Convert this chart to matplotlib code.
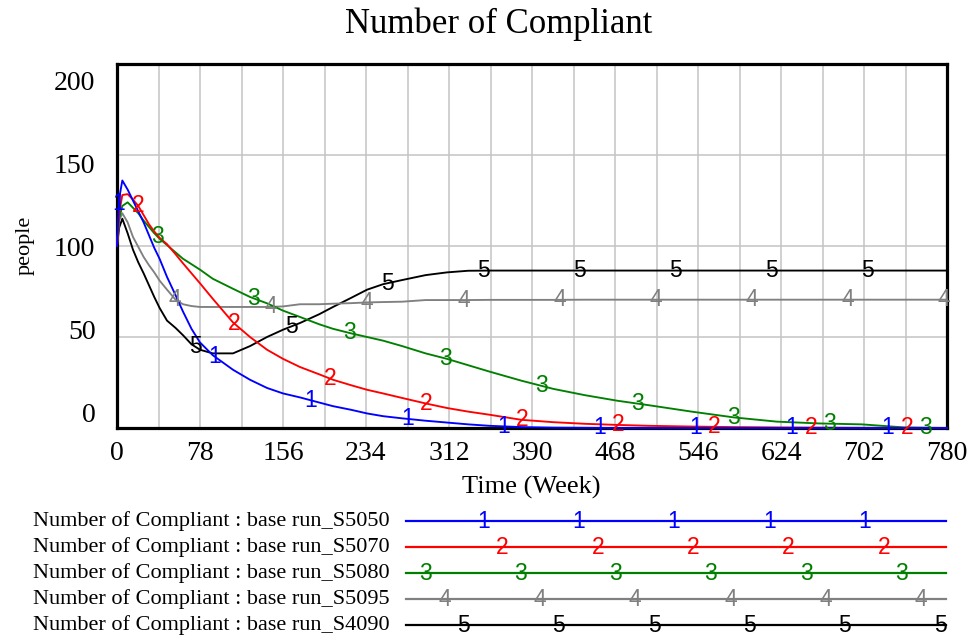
import numpy as np
import matplotlib
matplotlib.use("Agg")
import matplotlib.pyplot as plt
import matplotlib.transforms as mtransforms

# ---------------- data ----------------
title = "Number of Compliant"
x_label = "Time (Week)"
y_label = "people"
x_ticks = [0, 78, 156, 234, 312, 390, 468, 546, 624, 702, 780]
y_ticks = [0, 50, 100, 150, 200]

weeks = [0, 2, 5, 10, 15, 20, 25, 30, 35, 40, 47, 55, 62, 70, 78, 90, 109, 125,
         141, 156, 172, 190, 203, 220, 235, 250, 268, 290, 310, 330, 350, 380,
         410, 440, 470, 500, 540, 580, 620, 660, 700, 740, 780]

s5050 = [100, 126, 136, 131, 125, 119, 113, 106, 99, 93, 83, 73, 64, 54.5, 47, 40,
         32, 26.5, 22, 19, 16.8, 14, 12, 10, 8, 6.5, 5.3, 4, 3, 2, 1.2, 0.5,
         0.2, 0.1, 0, 0, 0, 0, 0, 0, 0, 0, 0]
s5070 = [100, 118, 128, 128.5, 125.5, 122, 117, 112, 108, 104.5, 101, 95.5, 90.5,
         85, 79.5, 71, 58, 50, 43, 38, 33.5, 29.5, 26.5, 23.5, 21, 19, 16.5, 13.5,
         11, 9, 7.3, 4.5, 3.2, 2.3, 1.7, 1.2, 0.8, 0.5, 0.3, 0.2, 0.1, 0.1, 0]
s5080 = [100, 115, 122, 124, 121, 118, 114, 110.5, 107, 104, 100.5, 96.5, 93, 90,
         87, 82, 76.5, 72, 68.5, 64.5, 61, 57, 54.5, 52, 50, 48, 45, 41, 38, 34.5,
         31, 26, 21.5, 18, 15, 12.5, 9, 5.8, 3.5, 2.5, 2.0, 0.3, 0]
s5095 = [100, 114, 118, 113, 105, 99.5, 94, 89.5, 85.5, 81, 76, 70.5, 68, 67,
         66.5, 66.5, 66.5, 66.5, 66.5, 66.8, 68, 68, 68.3, 68.6, 69, 69.2, 69.4,
         70.3, 70.3, 70.3, 70.4, 70.4, 70.4, 70.5, 70.5, 70.5, 70.5, 70.5, 70.5,
         70.5, 70.5, 70.5, 70.5]
s4090 = [100, 110, 115, 107, 98, 91, 85, 78.5, 72, 66, 59, 55, 51, 46, 43, 41, 41,
         45, 50, 54, 57.7, 62.5, 66.5, 71.5, 76, 79, 81.3, 84, 85.5, 86.4, 86.5,
         86.5, 86.5, 86.5, 86.5, 86.5, 86.5, 86.5, 86.5, 86.5, 86.5, 86.5, 86.5]

series_names = ["Number of Compliant : base run_S5050",
                "Number of Compliant : base run_S5070",
                "Number of Compliant : base run_S5080",
                "Number of Compliant : base run_S5095",
                "Number of Compliant : base run_S4090"]
series_values = [s5050, s5070, s5080, s5095, s4090]
series_marks = ["1", "2", "3", "4", "5"]

# ---------------- style ----------------
colors = ["#0000ff", "#ff0000", "#008000", "#808080", "#000000"]
serif = ["Liberation Serif", "DejaVu Serif"]
sans = ["Liberation Sans", "DejaVu Sans"]
mark_start = [1.8, 19.8, 37.6, 54.6, 73.4]
mark_step = 90.3
mark_size = 16.5

W, H = 977, 641
fig = plt.figure(figsize=(W / 100, H / 100), dpi=100)
fig.patch.set_facecolor("white")

L, R, T, B = 117, 947, 64, 428
ax = fig.add_axes([L / W, 1 - B / H, (R - L) / W, (B - T) / H])
ax.set_xlim(0, 780)
ax.set_ylim(0, 200)
ax.set_xticks(x_ticks)
ax.set_xticks(np.arange(0, 781, 39), minor=True)
ax.set_yticks(y_ticks)
ax.grid(True, which="both", color="#c4c4c4", lw=1.1, zorder=0)
ax.set_axisbelow(True)
ax.tick_params(which="both", length=0)
ax.tick_params(axis="x", pad=9.5)
ax.tick_params(axis="y", pad=15.5)
for lab in ax.get_xticklabels() + ax.get_yticklabels():
    lab.set_fontfamily(serif)
    lab.set_fontsize(20)
for sp in ax.spines.values():
    sp.set_linewidth(2.3)
    sp.set_color("black")

# spread y tick labels like the original
for v, lab in zip(y_ticks, ax.get_yticklabels()):
    off_px = 17 - (200 - v) * 0.165
    lab.set_transform(lab.get_transform() +
                      mtransforms.ScaledTranslation(0, -off_px / 100, fig.dpi_scale_trans))

# curves (series 1 on top)
for i in reversed(range(5)):
    vals = series_values[i]
    ax.plot(weeks, vals, color=colors[i], lw=1.35, zorder=3 + (5 - i) * 0.1,
            clip_on=False)
    t = mark_start[i]
    while t <= 780.5:
        yv = np.interp(t, weeks, vals)
        ax.text(t, yv, series_marks[i], color=colors[i], fontsize=mark_size,
                family=sans, ha="center", va="center", zorder=4)
        t += mark_step

fig.text(499 / W, 1 - 24 / H, title, ha="center", va="center",
         fontsize=25, family=serif)
fig.text(531 / W, 1 - 487 / H, x_label, ha="center", va="center",
         fontsize=19, family=serif)
fig.text(25 / W, 1 - 245 / H, y_label, ha="center", va="center",
         fontsize=16, family=serif, rotation=90)

# legend
lg = fig.add_axes([0, 0, 1, 1])
lg.set_xlim(0, W)
lg.set_ylim(H, 0)
lg.set_axis_off()
row_y = [521, 547, 573, 599, 625]
leg_first = [483.5, 502.5, 425, 444.5, 463.5]
for i in range(5):
    y = row_y[i]
    lg.text(390, y, series_names[i], ha="right", va="center", fontsize=16,
            family=serif)
    lg.plot([406, 946], [y, y], color=colors[i], lw=1.6)
    x = leg_first[i]
    while x <= 947:
        lg.text(x, y, series_marks[i], color=colors[i], fontsize=mark_size,
                family=sans, ha="center", va="center")
        x += 95.3

fig.savefig("out.png", dpi=100)
